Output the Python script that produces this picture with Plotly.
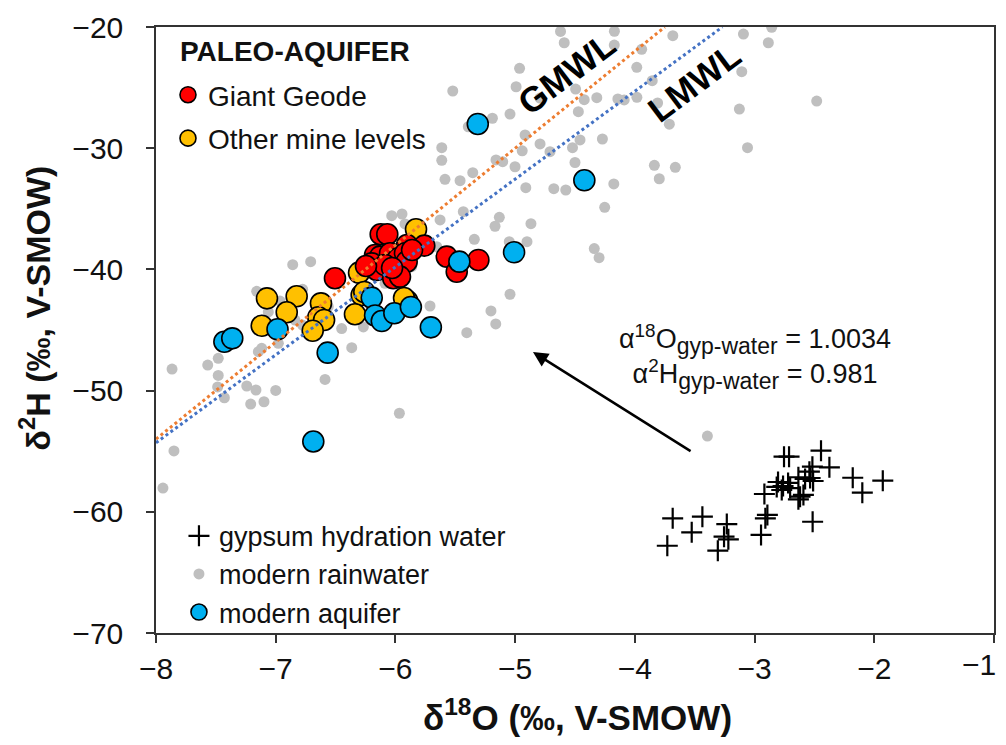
import plotly.graph_objects as go

# ---------------- data (δ18O, δ2H in ‰ V-SMOW) ----------------
geode_o = [-6.123, -6.068, -5.903, -5.759, -6.170, -6.129, -6.045, -5.976, -5.920, -5.906,
           -6.198, -6.156, -6.087, -6.018, -5.962, -6.505, -5.571, -5.307, -5.488, -6.246,
           -6.028, -5.861]
geode_h = [-37.10, -37.10, -37.99, -38.04, -38.81, -38.95, -38.67, -39.08, -38.67, -39.36,
           -39.50, -40.05, -39.64, -40.73, -40.60, -40.73, -38.95, -39.22, -40.19, -39.72,
           -39.88, -38.40]

mine_o = [-5.828, -6.304, -6.282, -6.260, -6.338, -5.901, -5.928, -7.073, -6.825, -6.908,
          -7.117, -6.622, -6.644, -6.596, -6.691]
mine_h = [-36.69, -40.27, -42.11, -41.86, -43.70, -42.61, -42.36, -42.39, -42.22, -43.54,
          -44.65, -42.80, -43.95, -44.17, -45.06]

aquifer_o = [-7.429, -7.363, -6.985, -6.566, -6.686, -6.198, -6.170, -6.114, -6.009, -5.871,
             -5.704, -5.466, -5.009, -5.312, -4.422]
aquifer_h = [-45.97, -45.69, -44.94, -46.87, -54.20, -42.33, -43.80, -44.26, -43.62, -43.10,
             -44.78, -39.36, -38.59, -28.00, -32.65]

gypsum_o = [-3.729, -3.684, -3.525, -3.436, -3.307, -3.232, -3.255, -3.219, -2.946, -2.918,
            -2.893, -2.910, -2.754, -2.712, -2.445, -2.375, -2.517, -2.180, -1.929, -2.100,
            -2.515, -2.804, -2.762, -2.720, -2.703, -2.815, -2.634, -2.578, -2.536, -2.511,
            -2.542, -2.620, -2.592, -2.634, -2.773]
gypsum_h = [-62.80, -60.54, -61.69, -60.40, -63.21, -61.01, -62.05, -62.27, -61.91, -58.53,
            -60.26, -60.54, -55.45, -55.45, -54.96, -56.33, -56.28, -57.19, -57.43, -58.42,
            -60.82, -57.54, -57.87, -57.62, -58.04, -57.95, -57.15, -57.29, -57.21, -57.46,
            -56.69, -58.75, -58.61, -58.97, -58.20]

rain_o = [-7.942, -7.850, -7.866, -7.568, -7.480, -7.480, -7.485, -7.429, -7.242, -7.165,
          -7.000, -7.209, -7.098, -7.145, -7.117, -6.978, -6.858, -6.708, -7.159, -6.964,
          -7.062, -6.775, -6.839, -6.776, -6.561, -6.449, -6.268, -6.365, -6.588, -5.967,
          -6.031, -5.945, -5.920, -5.627, -5.433, -5.132, -5.168, -4.868, -5.341, -5.049,
          -4.901, -5.655, -5.711, -5.202, -5.162, -5.043, -5.404, -6.087, -5.521, -5.613,
          -5.613, -5.586, -4.621, -4.171, -4.590, -4.172, -3.683, -3.093, -2.857, -2.885,
          -3.943, -3.984, -4.963, -4.992, -4.495, -5.043, -5.190, -5.391, -4.423, -4.318,
          -4.472, -4.142, -4.089, -3.983, -3.810, -3.855, -3.107, -2.481, -3.127, -3.712,
          -3.059, -3.837, -3.662, -3.796, -4.271, -4.458, -4.521, -4.500, -4.917, -4.941,
          -5.001, -4.792, -4.709, -5.460, -5.354, -5.104, -5.160, -4.911, -4.677, -4.577,
          -4.176, -4.252, -4.339, -4.299, -3.394, -5.864, -4.792]
rain_h = [-58.04, -54.98, -48.22, -47.89, -47.34, -48.75, -49.70, -50.59, -49.62, -49.95,
          -49.99, -51.11, -50.92, -46.79, -46.51, -46.10, -39.61, -39.36, -41.81, -42.61,
          -43.51, -41.64, -44.18, -44.59, -43.08, -44.88, -44.75, -46.46, -49.08, -51.87,
          -35.57, -35.43, -36.25, -35.92, -35.24, -35.70, -36.44, -36.23, -37.52, -37.71,
          -37.71, -38.13, -43.02, -43.43, -44.50, -42.05, -45.22, -41.15, -25.28, -29.96,
          -31.00, -32.57, -20.37, -20.35, -21.30, -21.49, -20.72, -20.58, -20.02, -21.30,
          -21.84, -23.33, -23.41, -24.93, -25.12, -27.18, -27.53, -28.23, -26.00, -25.83,
          -26.99, -25.94, -26.02, -25.80, -26.27, -24.43, -23.69, -26.11, -26.77, -28.02,
          -29.96, -31.41, -31.58, -32.52, -29.24, -29.32, -29.96, -31.18, -28.91, -30.22,
          -31.53, -29.65, -30.29, -32.68, -32.02, -31.11, -30.97, -33.26, -33.34, -33.45,
          -32.95, -34.88, -38.28, -39.03, -53.75, -39.78, -25.86]

# axis ticks (the last x label sits at the page edge and is drawn right-aligned below)
x_tickvals = [-8, -7, -6, -5, -4, -3, -2, -1]
x_ticktext = ["−8", "−7", "−6", "−5", "−4", "−3", "−2", ""]
x_last_label = "−1"
y_tickvals = [-70, -60, -50, -40, -30, -20]

# meteoric water lines: d2H = slope * d18O + intercept
gmwl_slope, gmwl_intercept = 8.0, 10.0
lmwl_slope, lmwl_intercept = 7.25, 3.7
gmwl_x = [-8.0, -3.75]
lmwl_x = [-8.0, -3.269]

# arrow (tail -> head) in data units
arrow_tail = (-3.522, -55.07)
arrow_head = (-4.851, -46.82)

FONT = "Liberation Sans, Arial, sans-serif"
TXT = "#111111"

fig = go.Figure()

fig.add_trace(go.Scatter(
    x=rain_o, y=rain_h, mode="markers", name="modern rainwater",
    marker=dict(symbol="circle", size=11, color="#BFBFBF", line=dict(width=0)),
    legend="legend2", legendgroup="r", legendrank=2))

fig.add_trace(go.Scatter(
    x=gypsum_o, y=gypsum_h, mode="markers", name="gypsum hydration water",
    marker=dict(symbol="cross-thin", size=15, color="black", line=dict(width=2.2, color="black")),
    legend="legend2", legendgroup="g", legendrank=1))

fig.add_trace(go.Scatter(
    x=mine_o, y=mine_h, mode="markers", name="Other mine levels",
    marker=dict(symbol="circle", size=21, color="#FFC000", line=dict(width=1.6, color="black")),
    legend="legend", legendgroup="m", legendrank=2))

fig.add_trace(go.Scatter(
    x=geode_o, y=geode_h, mode="markers", name="Giant Geode",
    marker=dict(symbol="circle", size=21, color="#FF0000", line=dict(width=1.6, color="black")),
    legend="legend", legendgroup="gg", legendrank=1))

fig.add_trace(go.Scatter(
    x=aquifer_o, y=aquifer_h, mode="markers", name="modern aquifer",
    marker=dict(symbol="circle", size=21, color="#00B0F0", line=dict(width=1.6, color="black")),
    legend="legend2", legendgroup="a", legendrank=3))

fig.add_trace(go.Scatter(
    x=gmwl_x, y=[gmwl_slope * v + gmwl_intercept for v in gmwl_x], mode="lines",
    line=dict(color="#ED7D31", width=3, dash="dot"), showlegend=False, hoverinfo="skip"))
fig.add_trace(go.Scatter(
    x=lmwl_x, y=[lmwl_slope * v + lmwl_intercept for v in lmwl_x], mode="lines",
    line=dict(color="#4472C4", width=3, dash="dot"), showlegend=False, hoverinfo="skip"))

axis_common = dict(
    showgrid=False, zeroline=False, showline=True, linecolor="#333333", linewidth=1.5,
    mirror=True, ticks="outside", ticklen=8, tickwidth=1.5, tickcolor="#333333",
    automargin=False, ticklabeloverflow="allow",
    tickfont=dict(family=FONT, size=30, color=TXT))

fig.update_xaxes(range=[-8, -1], tickmode="array", tickvals=x_tickvals, ticktext=x_ticktext,
                 ticklabelstandoff=0, **axis_common)
fig.update_yaxes(range=[-70, -20], tickmode="array", tickvals=y_tickvals,
                 ticklabelstandoff=17, **axis_common)

# the page adds an 8 px body margin around the figure
fig.update_layout(
    width=990, height=729,
    margin=dict(l=148, r=4, t=19, b=104),
    paper_bgcolor="white", plot_bgcolor="white",
    font=dict(family=FONT, color=TXT),
    legend=dict(x=0.0143, y=0.929, xanchor="left", yanchor="top",
                bgcolor="rgba(0,0,0,0)", font=dict(family=FONT, size=28, color=TXT),
                traceorder="grouped", tracegroupgap=4, itemwidth=30),
    legend2=dict(x=0.0274, y=0.20, xanchor="left", yanchor="top",
                 bgcolor="rgba(0,0,0,0)", font=dict(family=FONT, size=27, color=TXT),
                 traceorder="grouped", tracegroupgap=0, itemwidth=30),
    annotations=[
        # last x tick label, kept inside the page
        dict(x=x_tickvals[-1], y=0, xref="x", yref="paper", xanchor="right", yanchor="top",
             xshift=4, yshift=-13, text=x_last_label, showarrow=False,
             font=dict(family=FONT, size=30, color=TXT)),
        # axis titles
        dict(x=0.503, y=-0.135, xref="paper", yref="paper", xanchor="center", yanchor="middle",
             text="<b>δ<sup>18</sup>O (‰, V-SMOW)</b>", showarrow=False,
             font=dict(family=FONT, size=35, color=TXT)),
        dict(x=-0.145, y=0.536, xref="paper", yref="paper", xanchor="center", yanchor="middle",
             text="<b>δ<sup>2</sup>H (‰, V-SMOW)</b>", showarrow=False, textangle=-90,
             font=dict(family=FONT, size=34, color=TXT)),
        # legend heading
        dict(x=0.026, y=0.959, xref="paper", yref="paper", xanchor="left", yanchor="middle",
             text="<b>PALEO-AQUIFER</b>", showarrow=False,
             font=dict(family=FONT, size=28, color=TXT)),
        # water line labels
        dict(x=-4.575, y=-23.8, xref="x", yref="y", text="<b>GMWL</b>",
             showarrow=False, textangle=-37, font=dict(family=FONT, size=35, color="black")),
        dict(x=-3.505, y=-24.6, xref="x", yref="y", text="<b>LMWL</b>",
             showarrow=False, textangle=-37, font=dict(family=FONT, size=35, color="black")),
        # fractionation factors
        dict(x=-3.0, y=-47.2, xref="x", yref="y",
             text=("α<sup>18</sup>O<sub><span style='font-size:23px'>gyp-water</span></sub> = 1.0034<br>"
                   "α<sup>2</sup>H<sub><span style='font-size:23px'>gyp-water</span></sub> = 0.981"),
             showarrow=False, align="center", font=dict(family=FONT, size=27, color=TXT)),
        dict(x=arrow_head[0], y=arrow_head[1], ax=arrow_tail[0], ay=arrow_tail[1],
             xref="x", yref="y", axref="x", ayref="y",
             text="", showarrow=True, arrowhead=2, arrowsize=1.2, arrowwidth=2.5, arrowcolor="black"),
    ],
)

fig.write_html("out.html")
